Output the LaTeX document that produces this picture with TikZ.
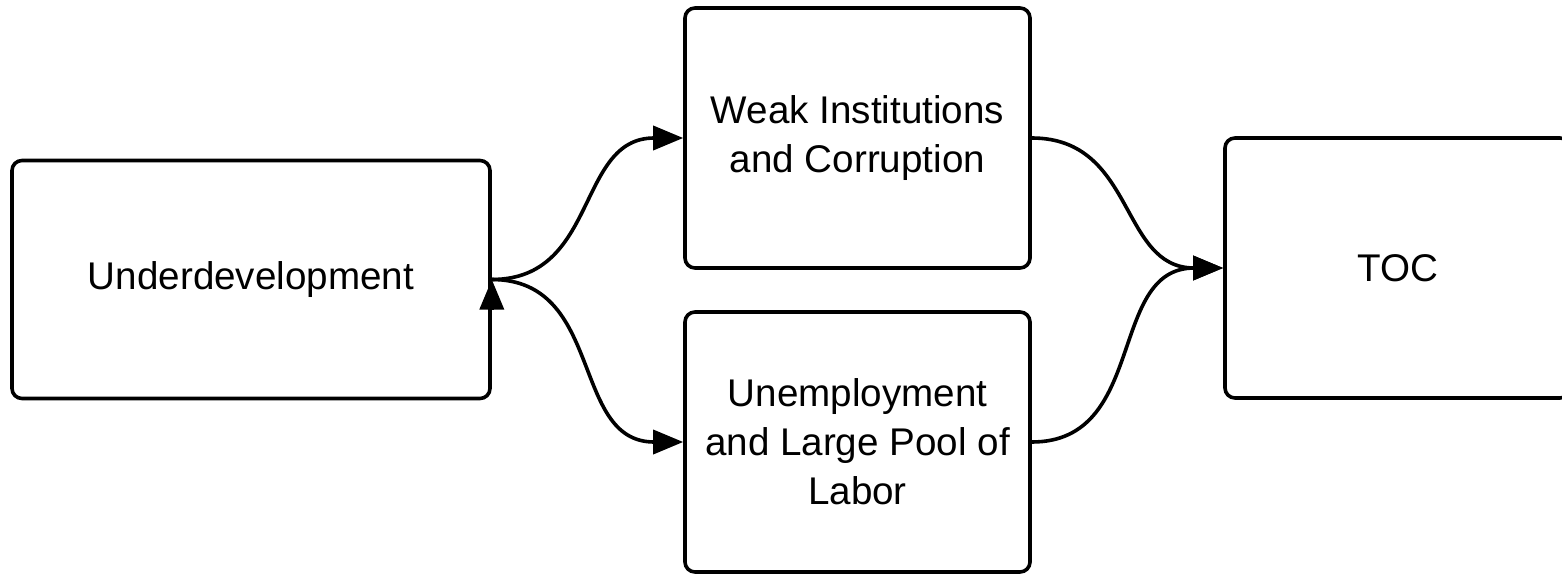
\documentclass[tikz,border=0pt]{standalone}
\usepackage{fontspec}
\setmainfont{Liberation Sans}
\usepackage{tikz}
\usetikzlibrary{arrows.meta}

\begin{document}
\begin{tikzpicture}[x=0.5pt, y=-0.5pt,
                    line width=1.8pt,
                    font=\fontsize{19.3pt}{24.5pt}\selectfont,
                    box/.style n args={2}{draw, rectangle,
                    rounded corners=5pt,
                    minimum width=#1*0.5pt,
                    minimum height=#2*0.5pt,
                    align=center, inner sep=0pt},
                    link/.style={-{Triangle[length=15pt,width=12pt]}, looseness=1.15}]
    \useasboundingbox (0,0) rectangle (1562,573);
    \node[box={478}{238}](und) at (251,279.5) {Underdevelopment};
    \node[box={345}{260}](weak) at (857.5,138) {Weak Institutions\\and Corruption};
    \node[box={345}{260}](unemp) at (857.5,442) {Unemployment\\and Large Pool of\\Labor};
    \node[box={345}{260}](toc) at (1397.5,268) {TOC};

    \draw[link] ([yshift=-15pt]und.east) -- (und.east);
    \draw[link] (und.east) to[out=0,in=180] (weak.west);
    \draw[link] (und.east) to[out=0,in=180] (unemp.west);
    \draw[link] (weak.east) to[out=0,in=180] (toc.west);
    \draw[link] (unemp.east) to[out=0,in=180] (toc.west);
\end{tikzpicture}
\end{document}
